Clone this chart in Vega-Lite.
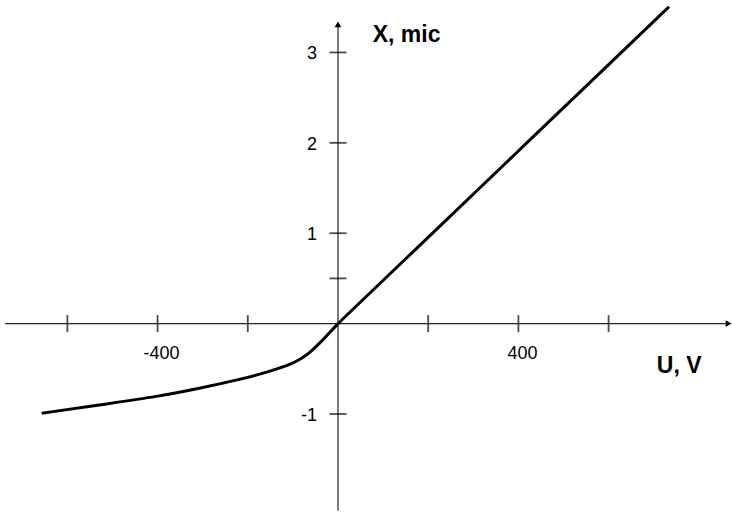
{
  "$schema": "https://vega.github.io/schema/vega-lite/v6.json",
  "width": 732,
  "height": 513,
  "autosize": {"type": "fit", "contains": "padding"},
  "padding": 0,
  "background": "white",
  "config": {"view": {"stroke": null}},
  "data": {"values": [{}]},
  "datasets": {
    "curve": [
      {"u": -657, "x": -0.992},
      {"u": -505, "x": -0.882},
      {"u": -402, "x": -0.808},
      {"u": -306, "x": -0.715},
      {"u": -203, "x": -0.6},
      {"u": -166, "x": -0.55},
      {"u": -129, "x": -0.49},
      {"u": -110, "x": -0.458},
      {"u": -92, "x": -0.418},
      {"u": -75, "x": -0.365},
      {"u": -63, "x": -0.322},
      {"u": -41, "x": -0.22},
      {"u": -18, "x": -0.095},
      {"u": 0, "x": 0},
      {"u": 30, "x": 0.1434},
      {"u": 100, "x": 0.478},
      {"u": 200, "x": 0.955},
      {"u": 400, "x": 1.91},
      {"u": 600, "x": 2.865},
      {"u": 734, "x": 3.505}
    ],
    "uTicks": [{"u": -600}, {"u": -400}, {"u": -200}, {"u": 200}, {"u": 400}, {"u": 600}],
    "xTicks": [{"x": -1}, {"x": 0.5}, {"x": 1}, {"x": 2}, {"x": 3}],
    "uLabels": [{"u": -400, "label": "-400"}, {"u": 400, "label": "400"}],
    "xLabels": [{"x": -1, "label": "-1"}, {"x": 1, "label": "1"}, {"x": 2, "label": "2"}, {"x": 3, "label": "3"}]
  },
  "layer": [
    {
      "description": "horizontal U axis",
      "mark": {"type": "rule", "color": "#222", "strokeWidth": 1.2},
      "encoding": {
        "x": {"datum": -738, "type": "quantitative", "scale": {"domain": [-749.4, 873.6], "nice": false, "zero": false}, "axis": null},
        "x2": {"datum": 862},
        "y": {"datum": 0, "type": "quantitative", "scale": {"domain": [-2.095, 3.58], "nice": false, "zero": false}, "axis": null}
      }
    },
    {
      "description": "vertical X axis",
      "mark": {"type": "rule", "color": "#222", "strokeWidth": 1.2},
      "encoding": {
        "x": {"datum": 0, "type": "quantitative"},
        "y": {"datum": -2.07, "type": "quantitative"},
        "y2": {"datum": 3.28}
      }
    },
    {
      "description": "arrowhead on the X axis",
      "mark": {"type": "point", "shape": "triangle-up", "filled": true, "color": "black", "opacity": 1, "size": 45},
      "encoding": {
        "x": {"datum": 0, "type": "quantitative"},
        "y": {"datum": 3.31, "type": "quantitative"}
      }
    },
    {
      "description": "arrowhead on the U axis",
      "mark": {"type": "point", "shape": "triangle-right", "filled": true, "color": "black", "opacity": 1, "size": 45},
      "encoding": {
        "x": {"datum": 866, "type": "quantitative"},
        "y": {"datum": 0, "type": "quantitative"}
      }
    },
    {
      "data": {"name": "uTicks"},
      "mark": {"type": "tick", "orient": "vertical", "color": "black", "size": 17, "thickness": 1.8},
      "encoding": {
        "x": {"field": "u", "type": "quantitative"},
        "y": {"datum": 0, "type": "quantitative"}
      }
    },
    {
      "data": {"name": "xTicks"},
      "mark": {"type": "tick", "orient": "horizontal", "color": "black", "size": 17, "thickness": 1.8},
      "encoding": {
        "x": {"datum": 0, "type": "quantitative"},
        "y": {"field": "x", "type": "quantitative"}
      }
    },
    {
      "data": {"name": "uLabels"},
      "mark": {"type": "text", "font": "Liberation Sans", "fontSize": 18, "align": "center", "baseline": "middle", "dx": 4, "dy": 30, "color": "black"},
      "encoding": {
        "x": {"field": "u", "type": "quantitative"},
        "y": {"datum": 0, "type": "quantitative"},
        "text": {"field": "label"}
      }
    },
    {
      "data": {"name": "xLabels"},
      "mark": {"type": "text", "font": "Liberation Sans", "fontSize": 18, "align": "right", "baseline": "middle", "dx": -21, "dy": 2, "color": "black"},
      "encoding": {
        "x": {"datum": 0, "type": "quantitative"},
        "y": {"field": "x", "type": "quantitative"},
        "text": {"field": "label"}
      }
    },
    {
      "data": {"name": "curve"},
      "mark": {"type": "line", "color": "black", "strokeWidth": 3, "interpolate": "basis", "strokeCap": "butt"},
      "encoding": {
        "x": {"field": "u", "type": "quantitative"},
        "y": {"field": "x", "type": "quantitative"}
      }
    },
    {
      "description": "X axis title",
      "mark": {"type": "text", "text": "X, mic", "font": "Liberation Sans", "fontWeight": "bold", "fontSize": 23, "align": "left", "baseline": "alphabetic", "color": "black"},
      "encoding": {
        "x": {"datum": 77, "type": "quantitative"},
        "y": {"datum": 3.118, "type": "quantitative"}
      }
    },
    {
      "description": "U axis title",
      "mark": {"type": "text", "text": "U, V", "font": "Liberation Sans", "fontWeight": "bold", "fontSize": 23, "align": "left", "baseline": "alphabetic", "color": "black"},
      "encoding": {
        "x": {"datum": 707, "type": "quantitative"},
        "y": {"datum": -0.546, "type": "quantitative"}
      }
    }
  ]
}
